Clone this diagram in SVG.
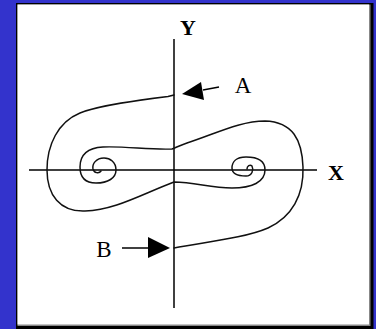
<svg xmlns="http://www.w3.org/2000/svg" width="376" height="329" viewBox="0 0 376 329">
<style>
.ax{stroke:#000;stroke-width:1.5;fill:none}
.cv{stroke:#111;stroke-width:1.5;fill:none;stroke-linejoin:round;stroke-linecap:round}
.ar{fill:#000;stroke:none}
.al{stroke:#000;stroke-width:1.5}
.lb{font-family:"Liberation Serif","Times New Roman",serif;font-size:23px;fill:#000;text-anchor:middle}
.bd{font-weight:bold;font-size:22px}
</style>
<rect x="0" y="0" width="376" height="329" fill="#3333cc"/>
<rect x="16" y="3" width="357.5" height="326" fill="#000"/>
<rect x="17.5" y="4.5" width="353" height="321.5" fill="#888"/>
<rect x="17.5" y="4.5" width="351.5" height="320" fill="#fff"/>
<g id="axes">
<line class="ax" x1="174" y1="39" x2="174" y2="308"/>
<line class="ax" x1="29" y1="170" x2="317" y2="170"/>
</g>
<g id="trajectories">
<path class="cv" d="M174,95 L168,96.5 C140,100 100,105 80,113 C58,122 47,145 47,170 C47,195 60,212 85,211 C115,210 140,195 174,182 C195,182 210,188 232,188 C252,188 265,182 265,170 C265,160 256,157 246,157 C236,157 232,162 232,168 C232,174 238,176 246,176 C252,176 254,170 252,166 C250,164 247,166 247,169"/>
<path class="cv" d="M174,248 C205,242 245,238 268,228 C292,217 304,195 303,167 C302,140 293,122 265,121 C240,121 215,134 187,143 C181,145 177,147 172,149 C150,150 125,146 103,147 C85,148 80,157 80,167 C80,178 86,183 96,183 C108,183 116,178 116,170 C116,162 110,158 104,158 C96,158 92,164 93,169 C94,173 99,174 101,171"/>
</g>
<g id="arrowA">
<line class="al" x1="203" y1="90" x2="219" y2="87"/>
<polygon class="ar" points="182,94 201,82 204,100"/>
</g>
<g id="arrowB">
<line class="al" x1="122" y1="248" x2="150" y2="248"/>
<polygon class="ar" points="170,248 148,237 148,258"/>
</g>
<g id="labels">
<text class="lb bd" x="188" y="35">Y</text>
<text class="lb bd" x="336" y="180">X</text>
<text class="lb" x="243" y="93">A</text>
<text class="lb" x="104" y="257">B</text>
</g>
</svg>
